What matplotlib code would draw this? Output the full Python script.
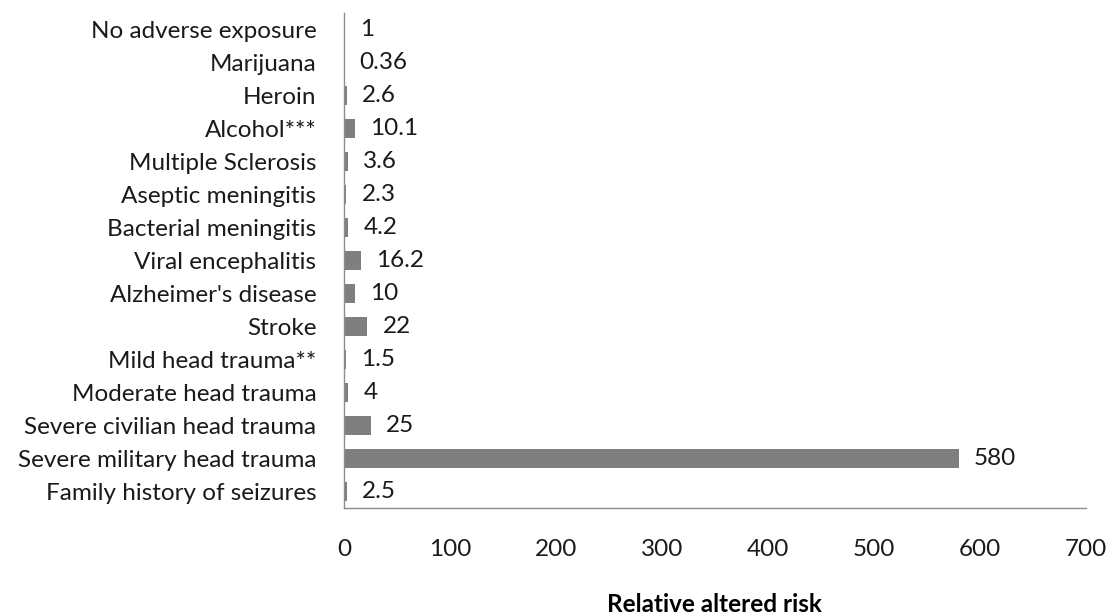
import matplotlib.pyplot as plt

plt.rcParams['font.family'] = ['Lato', 'DejaVu Sans']

# risk factors, listed top to bottom as they appear on the chart
factors = ["No adverse exposure", "Marijuana", "Heroin", "Alcohol***",
           "Multiple Sclerosis", "Aseptic meningitis", "Bacterial meningitis",
           "Viral encephalitis", "Alzheimer's disease", "Stroke",
           "Mild head trauma**", "Moderate head trauma",
           "Severe civilian head trauma", "Severe military head trauma",
           "Family history of seizures"]
risk = [1, 0.36, 2.6, 10.1, 3.6, 2.3, 4.2, 16.2, 10, 22, 1.5, 4, 25, 580, 2.5]
risk_labels = ["1", "0.36", "2.6", "10.1", "3.6", "2.3", "4.2", "16.2", "10",
               "22", "1.5", "4", "25", "580", "2.5"]
xticks = [0, 100, 200, 300, 400, 500, 600, 700]

fs = 17.5

fig = plt.figure(figsize=(11.17, 6.15), dpi=100)
ax = fig.add_axes([0.308, 0.174, 0.664, 0.805])

ypos = list(range(len(factors)))[::-1]
ax.barh(ypos, risk, height=0.57, color='#7f7f7f')

for y, v, lab in zip(ypos, risk, risk_labels):
    ax.annotate(lab, (v, y), xytext=(11, 0), textcoords='offset points',
                va='center', ha='left', fontsize=fs, color='#1a1a1a')

ax.set_xlim(0, 700)
ax.set_ylim(-0.5, len(factors) - 0.5)
ax.set_xticks(xticks)
ax.set_yticks(ypos)
ax.set_yticklabels(factors)
ax.tick_params(axis='both', length=0, labelsize=fs, colors='#1a1a1a')
ax.tick_params(axis='x', pad=22)
ax.tick_params(axis='y', pad=20)

for s in ['top', 'right']:
    ax.spines[s].set_visible(False)
for s in ['left', 'bottom']:
    ax.spines[s].set_color('#8c8c8c')
    ax.spines[s].set_linewidth(1)

ax.set_xlabel('Relative altered risk', fontsize=fs, fontweight='bold',
              labelpad=24)

fig.savefig('out.png', dpi=100)
